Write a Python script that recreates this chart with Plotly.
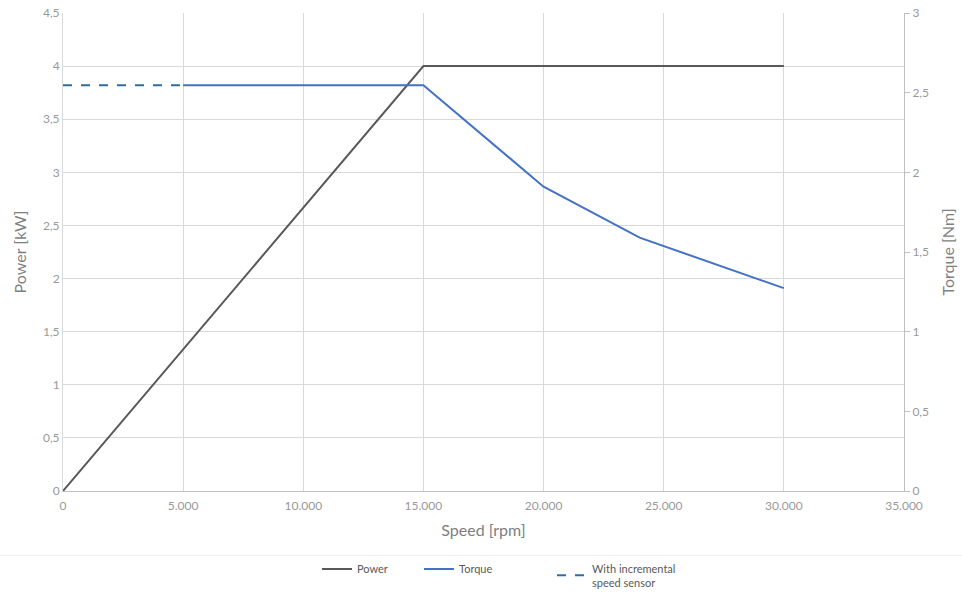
import plotly.graph_objects as go

power_speed = [0, 15000, 30000]
power_kw = [0, 4, 4]

torque_speed = [5000, 15000, 20000, 24000, 30000]
torque_nm = [2.546, 2.546, 1.91, 1.59, 1.273]

sensor_speed = [0, 5000]
sensor_nm = [2.546, 2.546]

x_ticks = [0, 5000, 10000, 15000, 20000, 25000, 30000, 35000]

FONT = "Lato"
GRAY = "#999999"

fig = go.Figure()
fig.add_trace(go.Scatter(x=power_speed, y=power_kw, mode="lines", name="Power",
                         line=dict(color="#595959", width=2), yaxis="y", legend="legend"))
fig.add_trace(go.Scatter(x=torque_speed, y=torque_nm, mode="lines", name="Torque",
                         line=dict(color="#4472C4", width=2), yaxis="y2", legend="legend2"))
fig.add_trace(go.Scatter(x=sensor_speed, y=sensor_nm, mode="lines",
                         name="With incremental<br>speed sensor",
                         line=dict(color="#2E6DA4", width=2, dash="dash"), yaxis="y2",
                         legend="legend3"))

LEG = dict(orientation="h", y=-0.133, yanchor="top", xanchor="left",
           font=dict(size=11, color="#595959", family=FONT), itemwidth=30,
           bgcolor="rgba(0,0,0,0)")

fig.update_layout(
    width=962, height=593,
    margin=dict(l=63, r=58, t=13, b=102, autoexpand=False),
    paper_bgcolor="white", plot_bgcolor="white",
    separators=",.",
    font=dict(family=FONT, color=GRAY, size=12),
    showlegend=True,
    legend=dict(LEG, x=(317 - 63) / 841),
    legend2=dict(LEG, x=(419 - 63) / 841),
    legend3=dict(LEG, x=(552 - 63) / 841),
    xaxis=dict(range=[0, 35000], tickvals=x_ticks, tickformat=",d",
               showgrid=True, gridcolor="#d9d9d9", gridwidth=1,
               showline=True, linecolor="#bfbfbf", linewidth=1,
               zeroline=False, ticks="", automargin=False, ticklabelstandoff=4,
               title=dict(text="Speed [rpm]", font=dict(size=16, color="#7f7f7f"), standoff=12),
               tickfont=dict(size=12, color=GRAY)),
    yaxis=dict(range=[0, 4.5], dtick=0.5, showgrid=True, gridcolor="#d9d9d9", gridwidth=1,
               showline=True, linecolor="#d9d9d9", zeroline=False, ticks="", automargin=False,
               title=dict(text="Power [kW]", font=dict(size=16, color="#7f7f7f"), standoff=12),
               tickfont=dict(size=12, color=GRAY)),
    yaxis2=dict(range=[0, 3], dtick=0.5, overlaying="y", side="right", showgrid=False,
                showline=True, linecolor="#bfbfbf", zeroline=False, automargin=False,
                ticks="outside", ticklen=5, tickcolor="#bfbfbf",
                title=dict(text="Torque [Nm]", font=dict(size=16, color="#7f7f7f"), standoff=14),
                tickfont=dict(size=12, color=GRAY)),
)

fig.add_shape(type="line", xref="paper", yref="paper", x0=-0.075, x1=1.07,
              y0=-0.135, y1=-0.135, line=dict(color="#eeeeee", width=1))

fig.write_html("out.html", post_script="document.body.style.margin='0';",
               config={"displayModeBar": False})
